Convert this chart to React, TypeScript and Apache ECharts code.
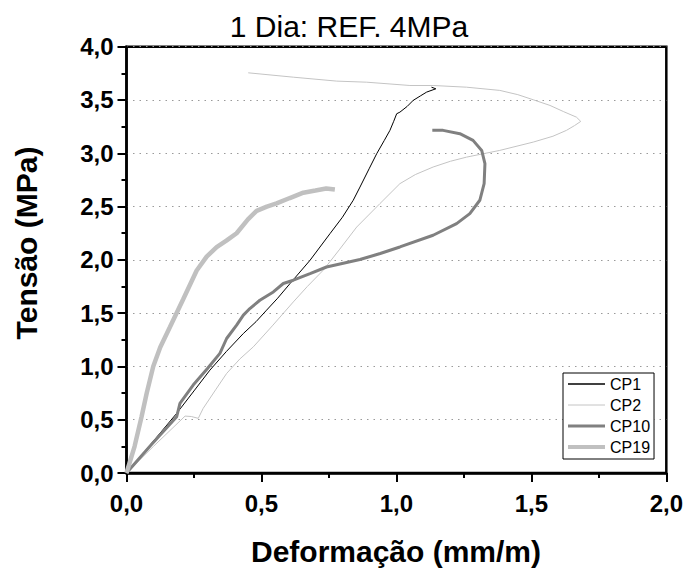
import React, { useEffect, useRef } from "react";
import * as echarts from "echarts";

const seriesNames = ["CP1", "CP2", "CP10", "CP19"];
const xTicks = [0, 0.5, 1.0, 1.5, 2.0];
const yTicks = [0, 0.5, 1.0, 1.5, 2.0, 2.5, 3.0, 3.5, 4.0];

const cp1: number[][] = [
  [0, 0], [0.09, 0.27], [0.186, 0.56], [0.25, 0.77], [0.309, 0.965], [0.37, 1.14],
  [0.433, 1.309], [0.48, 1.42], [0.519, 1.528], [0.56, 1.64], [0.606, 1.778],
  [0.68, 1.996], [0.754, 2.246], [0.8, 2.4], [0.84, 2.559], [0.865, 2.683],
  [0.9, 2.86], [0.927, 2.996], [0.955, 3.12], [0.976, 3.215], [0.99, 3.3],
  [1.001, 3.371], [1.013, 3.386], [1.04, 3.44], [1.062, 3.496], [1.09, 3.54],
  [1.112, 3.574], [1.146, 3.605], [1.13, 3.62],
];

const cp2: number[][] = [
  [0, 0], [0.1, 0.25], [0.217, 0.534], [0.24, 0.53], [0.266, 0.513], [0.284, 0.606],
  [0.33, 0.78], [0.371, 0.934], [0.42, 1.07], [0.47, 1.184], [0.54, 1.38],
  [0.618, 1.605], [0.67, 1.75], [0.729, 1.903], [0.79, 2.1], [0.853, 2.308],
  [0.939, 2.528], [1.013, 2.715], [1.07, 2.8], [1.136, 2.871], [1.2, 2.925],
  [1.26, 2.964], [1.383, 3.027], [1.507, 3.105], [1.58, 3.16], [1.63, 3.215],
  [1.66, 3.26], [1.683, 3.299], [1.667, 3.339], [1.62, 3.39], [1.569, 3.449],
  [1.507, 3.502], [1.45, 3.55], [1.383, 3.59], [1.26, 3.62], [1.136, 3.636],
  [1.05, 3.636], [0.89, 3.667], [0.779, 3.677], [0.618, 3.714], [0.451, 3.755],
];

const cp10: number[][] = [
  [0, 0], [0.09, 0.26], [0.186, 0.528], [0.198, 0.653], [0.247, 0.825], [0.3, 0.98],
  [0.346, 1.122], [0.371, 1.262], [0.408, 1.387], [0.433, 1.481], [0.457, 1.543],
  [0.494, 1.621], [0.544, 1.699], [0.581, 1.778], [0.618, 1.809], [0.68, 1.87],
  [0.741, 1.933], [0.865, 2.003], [0.94, 2.06], [1.013, 2.121], [1.136, 2.231],
  [1.223, 2.34], [1.272, 2.434], [1.309, 2.559], [1.325, 2.715], [1.328, 2.903],
  [1.316, 3.027], [1.284, 3.121], [1.235, 3.184], [1.173, 3.215], [1.133, 3.215],
];

const cp19: number[][] = [
  [0, 0], [0.03, 0.25], [0.056, 0.53], [0.075, 0.75], [0.099, 1.0], [0.125, 1.18],
  [0.161, 1.37], [0.21, 1.63], [0.26, 1.9], [0.297, 2.03], [0.334, 2.12],
  [0.37, 2.18], [0.408, 2.25], [0.45, 2.38], [0.482, 2.46], [0.52, 2.5],
  [0.556, 2.53], [0.605, 2.58], [0.655, 2.63], [0.7, 2.65], [0.74, 2.67], [0.772, 2.66],
];

const seriesData = [cp1, cp2, cp10, cp19];
const seriesColors = ["#000000", "#c4c4c4", "#808080", "#c0c0c0"];
const seriesWidths = [1, 1, 3, 4.5];
const legendWidths = [1.5, 1, 3, 4];

const FONT = "'Liberation Sans', Arial, Helvetica, sans-serif";
const fmt = (v: number) => v.toFixed(1).replace(".", ",");

export default function App() {
  const ref = useRef<HTMLDivElement>(null);
  useEffect(() => {
    document.body.style.margin = "0";
    if (!ref.current) return;
    const chart = echarts.init(ref.current, null, { renderer: "svg" });
    chart.setOption({
      animation: false,
      backgroundColor: "#ffffff",
      grid: {
        left: 126.5,
        right: 19.5,
        top: 46.7,
        bottom: 96,
        show: true,
        borderColor: "#000",
        borderWidth: 2.5,
        backgroundColor: "transparent",
      },
      legend: {
        data: seriesNames.map((name, i) => ({
          name,
          lineStyle: { width: legendWidths[i], color: seriesColors[i] },
        })),
        orient: "vertical",
        left: 563,
        top: 373,
        padding: [3, 4, 4, 3],
        itemWidth: 37,
        itemHeight: 16,
        itemGap: 5,
        borderColor: "#000",
        borderWidth: 1,
        backgroundColor: "#fff",
        itemStyle: { opacity: 0 },
        textStyle: { fontFamily: FONT, fontSize: 16, color: "#000" },
      },
      graphic: [
        {
          type: "text",
          x: 349,
          y: 26,
          style: {
            text: "1 Dia: REF. 4MPa",
            font: `30px ${FONT}`,
            fill: "#000",
            align: "center",
            verticalAlign: "middle",
          },
        },
        {
          type: "text",
          x: 396,
          y: 551,
          style: {
            text: "Deformação (mm/m)",
            font: `bold 30px ${FONT}`,
            fill: "#000",
            align: "center",
            verticalAlign: "middle",
          },
        },
        {
          type: "text",
          x: 26,
          y: 243,
          rotation: Math.PI / 2,
          style: {
            text: "Tensão (MPa)",
            font: `bold 30px ${FONT}`,
            fill: "#000",
            align: "center",
            verticalAlign: "middle",
          },
        },
      ],
      xAxis: {
        type: "value",
        min: xTicks[0],
        max: xTicks[xTicks.length - 1],
        interval: 0.5,
        axisLine: { show: true, lineStyle: { color: "#000", width: 2.5 } },
        axisTick: { show: true, inside: false, length: 9, lineStyle: { color: "#000", width: 2 } },
        minorTick: { show: true, splitNumber: 2, length: 5, lineStyle: { color: "#000", width: 2 } },
        splitLine: { show: false },
        axisLabel: {
          margin: 18,
          fontFamily: FONT,
          fontSize: 24,
          fontWeight: "bold",
          color: "#000",
          formatter: (v: number) => fmt(v),
        },
      },
      yAxis: {
        type: "value",
        min: yTicks[0],
        max: yTicks[yTicks.length - 1],
        interval: 0.5,
        axisLine: { show: true, lineStyle: { color: "#000", width: 2.5 } },
        axisTick: { show: true, inside: false, length: 9, lineStyle: { color: "#000", width: 2 } },
        minorTick: { show: true, splitNumber: 2, length: 5, lineStyle: { color: "#000", width: 2 } },
        splitLine: { show: true, lineStyle: { color: "#9a9a9a", width: 1, type: [1.5, 5] } },
        axisLabel: {
          margin: 13,
          fontFamily: FONT,
          fontSize: 24,
          fontWeight: "bold",
          color: "#000",
          formatter: (v: number) => fmt(v),
        },
      },
      series: seriesNames.map((name, i) => ({
        name,
        type: "line",
        data: seriesData[i],
        showSymbol: false,
        symbol: "none",
        smooth: false,
        z: 2 + i,
        lineStyle: { color: seriesColors[i], width: seriesWidths[i] },
        itemStyle: { color: seriesColors[i] },
      })),
    });
    return () => chart.dispose();
  }, []);
  return <div ref={ref} style={{ width: 686, height: 569 }} />;
}
